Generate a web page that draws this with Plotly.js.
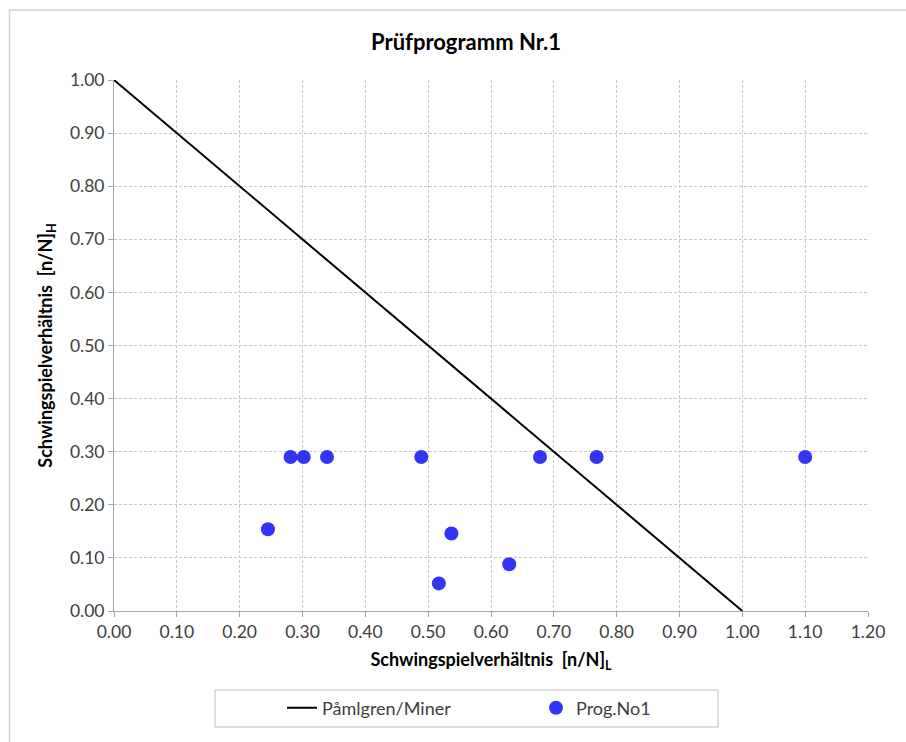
<!DOCTYPE html>
<html>
<head>
<meta charset="utf-8">
<script src="https://cdn.plot.ly/plotly-3.0.1.min.js"></script>
<style>html,body{margin:0;padding:0;background:#fff;}#chart{width:906px;height:742px;}</style>
</head>
<body>
<div id="chart"></div>
<script>
// Pålmgren/Miner line
const minerX = [0.0, 1.0];
const minerY = [1.0, 0.0];
// Prog.No1 measured points
const progX = [0.245, 0.281, 0.302, 0.339, 0.489, 0.537, 0.517, 0.629, 0.678, 0.768, 1.100];
const progY = [0.154, 0.290, 0.290, 0.290, 0.290, 0.146, 0.052, 0.088, 0.290, 0.290, 0.290];
const xTicks = [0, 0.1, 0.2, 0.3, 0.4, 0.5, 0.6, 0.7, 0.8, 0.9, 1.0, 1.1, 1.2];
const yTicks = [0, 0.1, 0.2, 0.3, 0.4, 0.5, 0.6, 0.7, 0.8, 0.9, 1.0];

const FONT = 'Lato, "Open Sans", sans-serif';
const traces = [
  {x: minerX, y: minerY, type: 'scatter', mode: 'lines', name: 'Påmlgren/Miner',
   line: {color: '#000000', width: 2}},
  {x: progX, y: progY, type: 'scatter', mode: 'markers', name: 'Prog.No1',
   marker: {color: '#3434F5', size: 14}}
];
const axisCommon = {
  showgrid: true, gridcolor: '#c8c8c8', griddash: '3px,2px', gridwidth: 1,
  showline: true, linecolor: '#a6a6a6', linewidth: 1,
  ticks: 'outside', ticklen: 5, tickcolor: '#a6a6a6',
  zeroline: false,
  tickfont: {family: FONT, size: 17.5, color: '#404040'}
};
const L = 114, T = 80, PW = 754, PH = 531;
const px = v => (v - L) / PW;
const py = v => (T + PH - v) / PH;
const layout = {
  width: 906, height: 742,
  margin: {l: 114, r: 38, t: 80, b: 131},
  paper_bgcolor: '#ffffff', plot_bgcolor: '#ffffff',
  font: {family: FONT, color: '#000'},
  title: {text: '<b>Prüfprogramm Nr.1</b>', font: {family: FONT, size: 22, color: '#000'},
          x: 466/906, xanchor: 'center', y: 1 - 42/742, yanchor: 'middle'},
  xaxis: Object.assign({}, axisCommon, {
    range: [0, 1.2], tickvals: xTicks, ticktext: xTicks.map(v => v.toFixed(2)),
    title: {text: '<b>Schwingspielverhältnis&nbsp;&nbsp;[n/N]<sub>L</sub></b>',
            font: {family: FONT, size: 18, color: '#000'}, standoff: 12}
  }),
  yaxis: Object.assign({}, axisCommon, {
    range: [0, 1.0], tickvals: yTicks, ticktext: yTicks.map(v => v.toFixed(2)),
    title: {text: '<b>Schwingspielverhältnis&nbsp;&nbsp;[n/N]<sub>H</sub></b>',
            font: {family: FONT, size: 18, color: '#000'}, standoff: 12}
  }),
  showlegend: true,
  legend: {orientation: 'h', x: px(282), xanchor: 'left', y: py(708), yanchor: 'middle',
           borderwidth: 0, bgcolor: 'rgba(0,0,0,0)',
           font: {family: FONT, size: 18, color: '#404040'},
           entrywidth: 209, entrywidthmode: 'pixels'},
  shapes: [
    {type: 'rect', xref: 'paper', yref: 'paper',
     x0: px(9.5), x1: 3, y0: -3, y1: py(10),
     line: {color: '#d0d0d0', width: 1.5}, fillcolor: 'rgba(0,0,0,0)', layer: 'below'},
    {type: 'rect', xref: 'paper', yref: 'paper',
     x0: px(215), x1: px(718), y0: py(727), y1: py(690),
     line: {color: '#bfbfbf', width: 1}, fillcolor: 'rgba(0,0,0,0)', layer: 'below'}
  ]
};
Plotly.newPlot('chart', traces, layout, {displayModeBar: false, staticPlot: true});
</script>
</body>
</html>
